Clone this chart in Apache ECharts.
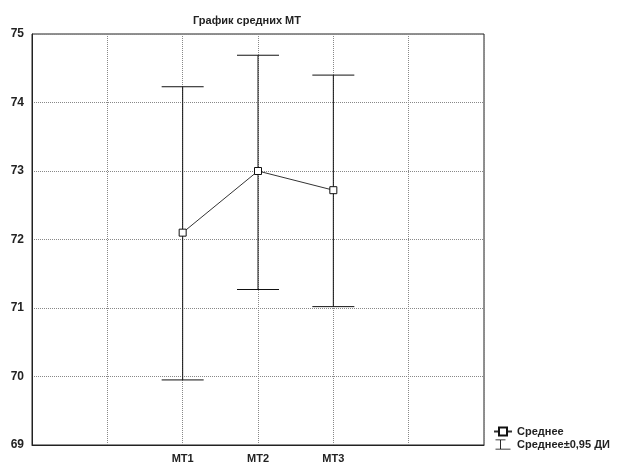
<!DOCTYPE html>
<html><head><meta charset="utf-8">
<script src="https://cdn.jsdelivr.net/npm/echarts@6/dist/echarts.min.js"></script>
<style>html,body{margin:0;padding:0;background:#fff}#c{width:628px;height:467px}</style>
</head><body><div id="c"></div>
<script>
var categories = ['МТ1', 'МТ2', 'МТ3'];
var means = [72.1, 73.0, 72.72];
var lower = [69.95, 71.27, 71.02];
var upper = [74.23, 74.69, 74.40];
var yTicks = [69, 70, 71, 72, 73, 74, 75];
var pad = 2;

var axisData = ['', ''].concat(categories).concat(['', '']);
var lineData = ['-', '-'].concat(means).concat(['-', '-']);
var barData = categories.map(function (c, i) { return [i + pad, lower[i], upper[i]]; });

var chart = echarts.init(document.getElementById('c'));
var font = 'Liberation Sans, Arial, sans-serif';
chart.setOption({
  animation: false,
  title: { text: 'График средних МТ', left: 188, top: 10,
    textStyle: { fontFamily: font, fontSize: 11, fontWeight: 'bold', color: '#222' } },
  grid: { left: 32, right: 144, top: 34, bottom: 22, show: true, borderColor: '#222', borderWidth: 1 },
  legend: {
    orient: 'vertical', left: 488, top: 421, itemGap: 2, itemWidth: 18, itemHeight: 10,
    textStyle: { fontFamily: font, fontSize: 11, fontWeight: 'bold', color: '#222' },
    data: [
      { name: 'Среднее' },
      { name: 'Среднее±0,95 ДИ', icon: 'path://M0,0 L12,0 L12,1 L6.5,1 L6.5,11 L18,11 L18,12 L0,12 L0,11 L5.5,11 L5.5,1 L0,1 Z' }
    ]
  },
  xAxis: {
    type: 'category', data: axisData, boundaryGap: false,
    axisLine: { lineStyle: { color: '#222' } }, axisTick: { show: false },
    axisLabel: { fontFamily: font, fontSize: 11, fontWeight: 'bold', color: '#222', margin: 8, interval: 0 },
    splitLine: { show: true, lineStyle: { type: 'dotted', color: '#888' } }
  },
  yAxis: {
    type: 'value', min: 69, max: 75, interval: 1,
    axisLine: { show: true, lineStyle: { color: '#222' } }, axisTick: { show: false },
    axisLabel: { fontFamily: font, fontSize: 12, fontWeight: 'bold', color: '#222', margin: 8,
      formatter: function (v) { return yTicks.indexOf(v) >= 0 ? String(v) : ''; } },
    splitLine: { show: true, lineStyle: { type: 'dotted', color: '#888' } }
  },
  series: [
    {
      name: 'Среднее±0,95 ДИ', type: 'custom', z: 2,
      itemStyle: { color: '#000' },
      data: barData,
      encode: { x: 0, y: [1, 2] },
      renderItem: function (params, api) {
        var x = api.value(0);
        var lo = api.coord([x, api.value(1)]);
        var hi = api.coord([x, api.value(2)]);
        var hw = 21;
        var st = { stroke: '#111', lineWidth: 1 };
        return { type: 'group', children: [
          { type: 'line', shape: { x1: lo[0], y1: lo[1], x2: hi[0], y2: hi[1] }, style: st },
          { type: 'line', shape: { x1: lo[0] - hw, y1: lo[1], x2: lo[0] + hw, y2: lo[1] }, style: st },
          { type: 'line', shape: { x1: hi[0] - hw, y1: hi[1], x2: hi[0] + hw, y2: hi[1] }, style: st }
        ] };
      }
    },
    {
      name: 'Среднее', type: 'line', z: 3, data: lineData,
      symbol: 'rect', symbolSize: 7, showAllSymbol: true,
      lineStyle: { color: '#333', width: 1 },
      itemStyle: { color: '#fff', borderColor: '#111', borderWidth: 1 }
    }
  ]
});
</script></body></html>
